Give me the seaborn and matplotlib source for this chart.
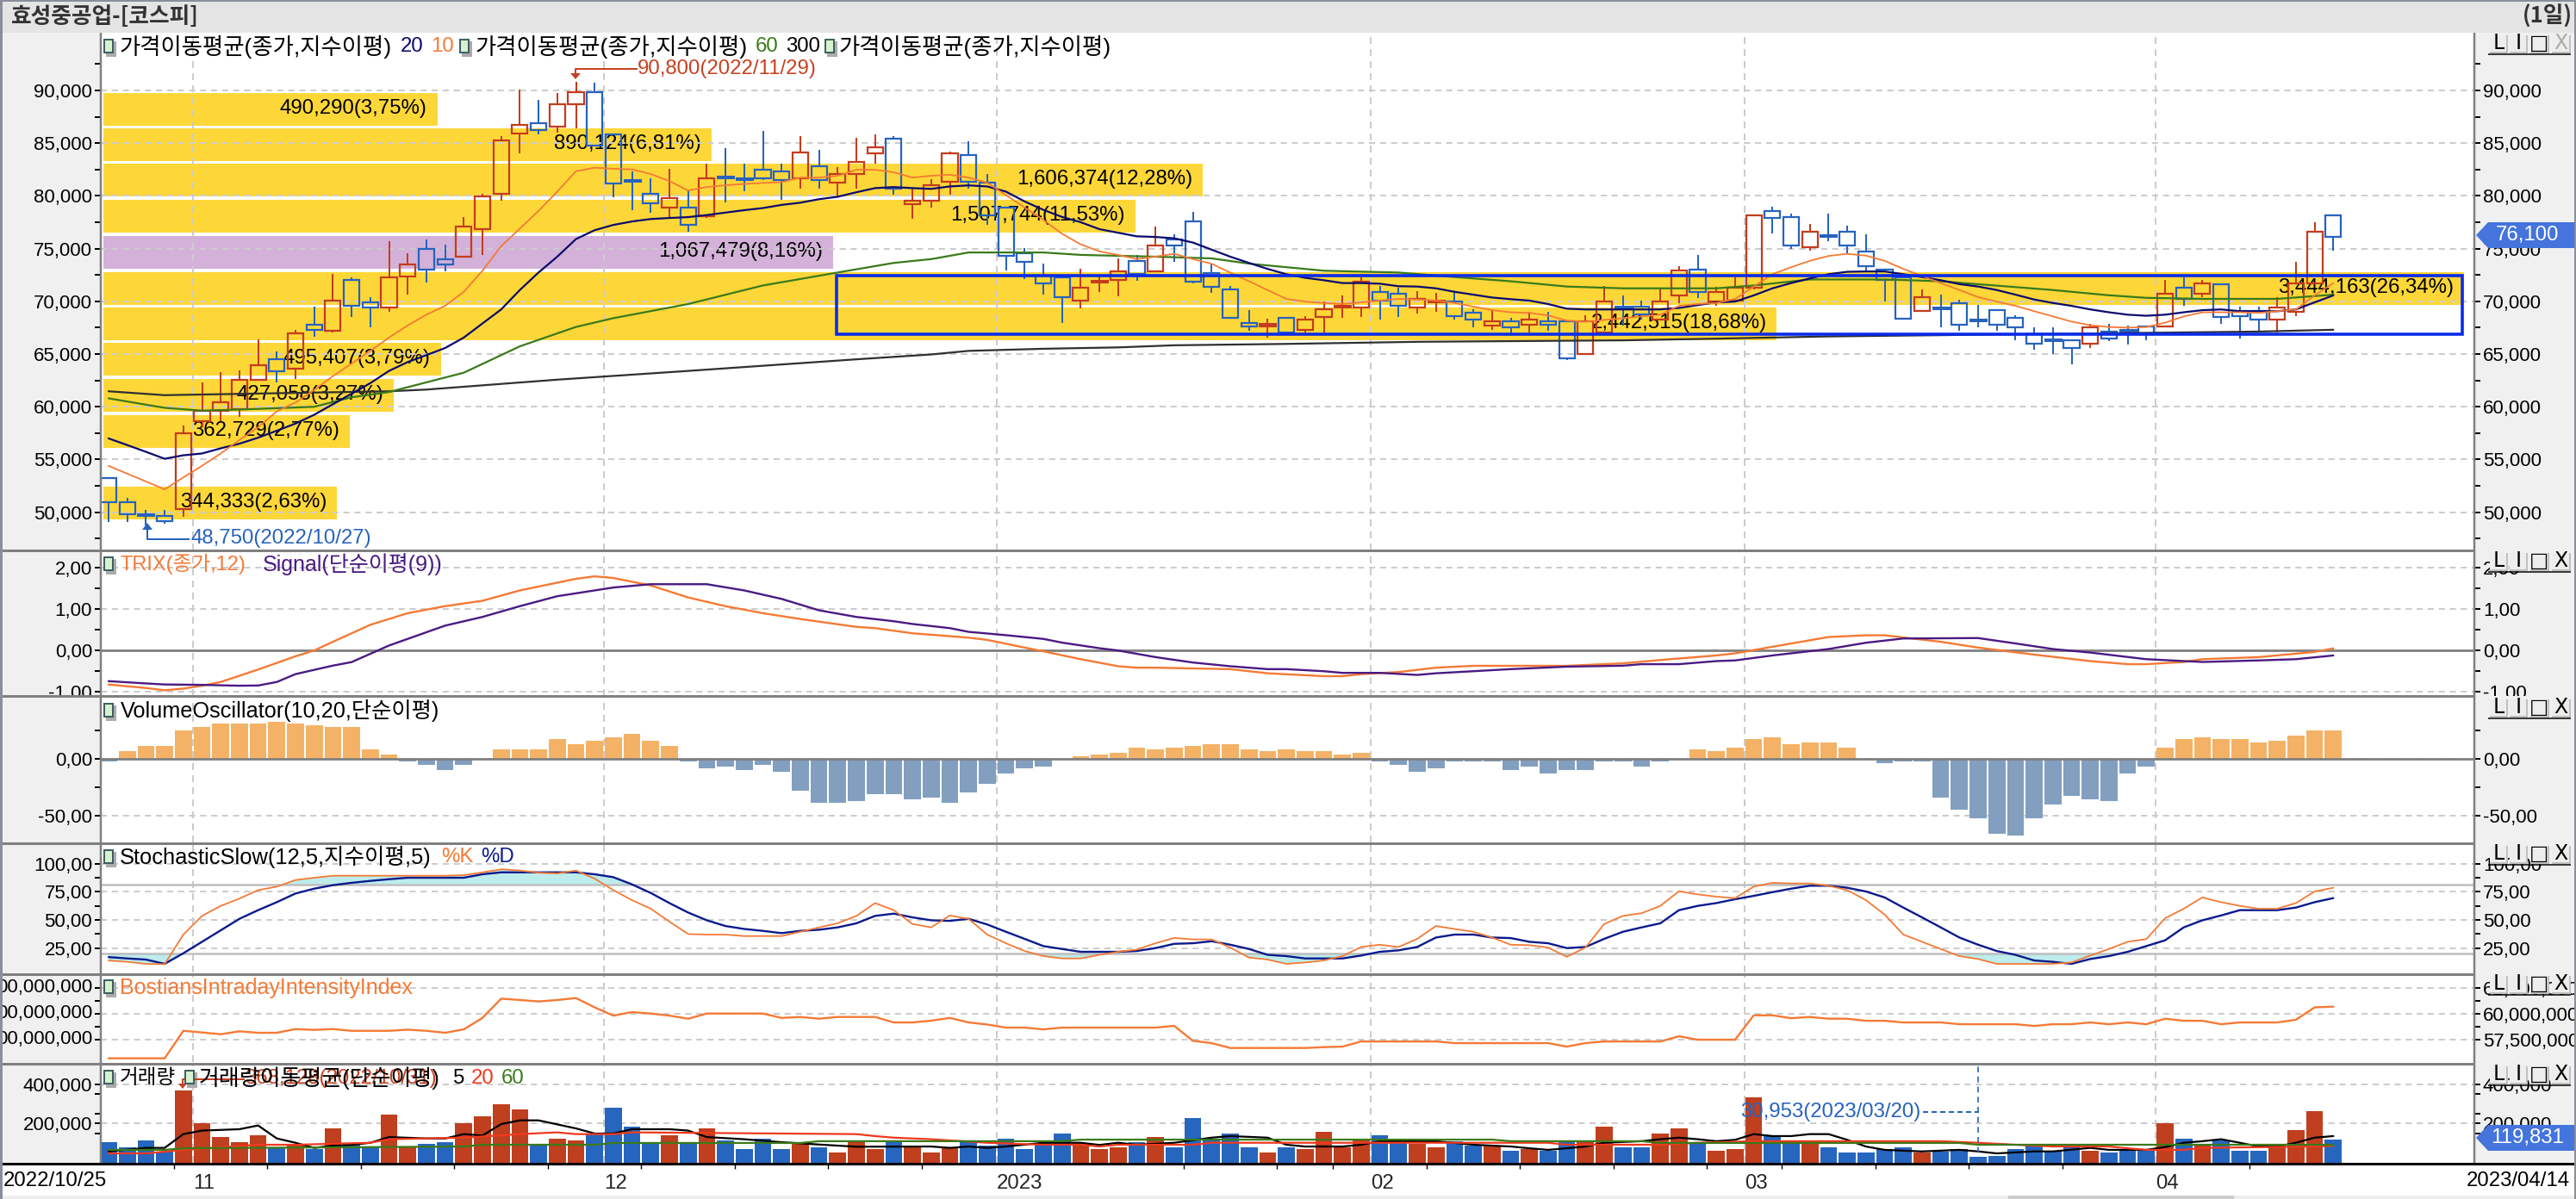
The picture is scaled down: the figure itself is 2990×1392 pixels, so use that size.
import numpy as np
import pandas as pd
import matplotlib
matplotlib.use("Agg")
import matplotlib.pyplot as plt
from matplotlib.patches import Rectangle, Polygon
from matplotlib.lines import Line2D
from matplotlib.transforms import Bbox, blended_transform_factory
import seaborn as sns

# ---------- data ----------
open_prices = [53230,50970,49800,49670,50300,58640,59640,59740,62570,64480,
63630,67770,67220,72050,69910,69400,72340,74970,74010,74270,
76840,80160,85900,86910,86560,88720,89830,85800,81500,80210,
78910,78910,78100,81850,81700,82500,82330,81660,82830,81230,
82030,83990,85450,79210,79560,81330,83840,81220,78900,74570,
72460,72250,70040,71850,72010,73820,72860,75830,77590,72710,
71100,67950,67700,68430,67270,68530,69480,69400,70900,70750,
69400,69950,69970,68960,67720,68130,67770,68130,68130,65000,
67070,69530,69480,68300,70540,73030,69970,70070,71250,78580,
77980,75130,76280,76630,74700,73040,72250,69080,69400,69800,
68280,69130,68450,66920,66400,66310,65960,67120,67280,67620,
67620,71250,70750,71580,69080,69080,68300,68980,71700,78120]
close_prices = [50970,49830,49700,49140,57500,59640,60430,62570,63900,63370,
66930,67270,70040,69590,69400,72260,73500,73010,73500,77090,
79960,85250,86760,86250,88720,89830,84800,81170,81400,79260,
79760,77250,81680,81750,81600,81660,81530,84140,81530,82030,
83180,84640,80670,79560,81030,83990,81330,78150,74320,73760,
71700,70390,71250,71950,72860,72610,75280,75280,71850,71350,
68430,67620,67820,67070,68300,69240,69600,71850,70040,69590,
70240,70080,68560,68300,68130,67570,68300,67770,64630,68130,
69970,69430,68730,69970,72910,70850,70900,71250,78150,77920,
75310,76630,76180,75310,73340,72000,68310,70410,69300,67800,
68180,67800,67570,65960,66300,65610,67520,66460,67180,66920,
70750,70240,71700,68480,68580,68300,69410,71700,76630,76100]
high_prices = [53230,51370,50230,50230,58240,62290,63250,63470,66400,65240,
67270,69500,72560,72250,70410,75680,74570,75880,75380,77960,
80210,85650,90080,89070,89720,90800,90700,85800,82320,81630,
82530,80490,83080,84540,83080,86140,83080,85650,84370,82730,
85490,85850,85650,80650,81570,84190,85140,82080,78900,75030,
73560,72250,73060,72460,74070,74370,77090,76380,78450,73510,
71480,69160,68330,68430,68630,69990,70590,72230,71450,71250,
71000,70790,70970,69230,69230,68400,68980,68980,68130,68680,
71450,70590,70090,71300,73310,74400,71400,72250,78150,78970,
78300,77340,78300,77170,76380,73040,72250,71120,70650,70140,
69660,69130,68660,67570,67570,66310,67900,67900,67720,67620,
72050,72300,72050,71580,69490,69490,70410,73730,77490,78120]
low_prices = [49060,49060,48750,48900,49570,58050,58640,59060,62570,62340,
62640,66620,67020,68480,67570,69000,70650,71800,72810,74170,
74420,79510,84040,85850,85950,86360,84800,79870,78660,78360,
78000,76600,77900,79370,80470,81530,79620,80650,80650,79870,
80720,83080,80140,77860,78860,80140,80650,77240,72960,72100,
70650,67920,69330,70850,70440,71950,72860,73730,71700,70790,
68430,67220,66560,67070,67070,67070,68430,68480,68230,68480,
68830,69000,68230,67570,67320,66970,67020,67220,64430,65000,
67070,67720,68230,68180,69840,70310,69570,69970,71150,76410,
74970,74770,75710,74570,72740,70010,68310,69080,67570,67220,
67570,67220,66310,65410,65000,64000,65610,66210,65940,66310,
67570,69570,70410,67900,66460,67070,67070,68580,71630,74770]

ma10 = [54400,53660,52920,52170,53300,54400,55570,56850,58060,59570,
60400,61600,62900,64100,65300,66560,67720,68730,69570,70900,
72900,75230,76890,78570,80400,82330,82670,82570,82500,82070,
81400,80500,80830,81000,81130,81220,81300,81730,81730,81900,
82470,82470,82230,81730,81900,82000,81730,81240,80070,78900,
77730,76400,75400,74730,74400,74000,74240,74500,74000,73560,
72720,71900,71060,70230,69970,69840,69740,69900,70070,70230,
70170,70070,69840,69500,69160,68960,68900,68660,68170,68070,
68230,68400,68570,68730,69570,69740,69840,70230,71400,72570,
73230,73840,74300,74500,74330,73840,73070,72400,71730,71070,
70400,69970,69570,69060,68570,68070,67740,67560,67500,67560,
67970,68570,68960,68960,68960,68900,69060,69230,70560,71730]
ma20 = [57000,56370,55730,55070,55400,55570,56060,56500,57070,57730,
58410,59240,60240,61240,62240,63400,64240,64900,65570,66560,
67900,69230,71070,72730,74230,75900,76740,77240,77570,77800,
77900,77980,78180,78410,78640,78840,79140,79350,79680,79910,
80340,80730,80830,80730,80660,80890,80990,80890,80400,79470,
78670,78000,77500,76840,76500,76160,76100,75970,75570,74900,
74230,73640,73070,72570,72230,72000,71730,71730,71670,71430,
71400,71230,70900,70630,70360,70200,70070,69740,69300,69230,
69230,69230,69230,69230,69370,69640,69900,69970,70560,71230,
71730,72170,72570,72800,72830,72830,72570,72300,72000,71630,
71400,71070,70630,70170,69840,69570,69230,68960,68730,68630,
68730,68960,69160,69230,69060,69060,69060,69230,69900,70560]
ma60_idx = [0,3,5,8,11,13,15,19,22,25,27,31,35,39,42,44,46,50,52,56,59,61,65,69,72,75,78,81,86,88,91,95,98,104,107,109,112,116,119]
ma60 = [60800,59900,59630,59800,60000,60900,61400,63230,65730,67570,68400,69740,71500,72730,73640,74000,74630,74630,74400,74230,74070,73570,72900,72730,72300,71900,71400,71230,71230,71500,72070,72070,71900,71070,70570,70330,70230,70230,70630]
ma300_idx = [0,3,15,17,24,31,40,44,46,50,54,57,63,70,81,86,92,115,119]
ma300 = [61470,61100,61470,61630,62570,63400,64500,64960,65300,65500,65630,65830,65960,66160,66300,66460,66670,67130,67300]

profile_prices = [50870,57650,61080,64520,67870,71220,74650,78080,81520,84850,88180]
profile_volumes = [344333,362729,427058,495407,2442515,3444163,1067479,1507744,1606374,890124,490290]
profile_labels = ["344,333(2,63%)","362,729(2,77%)","427,058(3,27%)","495,407(3,79%)","2,442,515(18,68%)",
                  "3,444,163(26,34%)","1,067,479(8,16%)","1,507,744(11,53%)","1,606,374(12,28%)","890,124(6,81%)","490,290(3,75%)"]
box_price_low, box_price_high = 66897, 72466

trix_idx = [0,1,2,3,4,5,6,8,10,11,12,14,16,18,20,22,25,26,27,29,31,33,35,37,40,41,43,46,47,49,50,52,54,55,56,60,62,65,66,67,69,71,73,78,80,81,83,86,87,89,92,94,95,98,100,103,106,108,109,111,112,115,118,119]
trix = [-0.82,-0.865,-0.905,-0.96,-0.92,-0.85,-0.76,-0.46,-0.14,0,0.21,0.62,0.90,1.07,1.20,1.45,1.73,1.79,1.75,1.57,1.28,1.07,0.90,0.76,0.57,0.54,0.415,0.31,0.256,0.07,-0.02,-0.21,-0.38,-0.415,-0.415,-0.45,-0.55,-0.62,-0.62,-0.57,-0.52,-0.415,-0.37,-0.37,-0.33,-0.31,-0.23,-0.12,-0.07,0.09,0.325,0.367,0.367,0.21,0.07,-0.10,-0.256,-0.33,-0.33,-0.277,-0.21,-0.16,-0.035,0.05]
signal_idx = [0,2,3,5,7,8,9,10,12,13,15,16,18,20,22,24,27,29,32,34,36,38,40,42,43,45,46,48,50,51,53,54,56,58,60,62,63,65,66,68,70,71,75,78,81,82,84,86,87,89,92,94,96,100,102,104,106,109,112,115,117,119]
signal = [-0.74,-0.795,-0.82,-0.83,-0.85,-0.845,-0.76,-0.57,-0.365,-0.28,0.12,0.28,0.60,0.81,1.07,1.31,1.52,1.60,1.60,1.45,1.245,0.97,0.81,0.706,0.64,0.54,0.45,0.37,0.28,0.19,0.055,0,-0.16,-0.29,-0.38,-0.45,-0.45,-0.50,-0.54,-0.54,-0.59,-0.55,-0.45,-0.39,-0.367,-0.33,-0.33,-0.256,-0.24,-0.12,0.035,0.187,0.29,0.30,0.17,0.035,-0.05,-0.21,-0.277,-0.24,-0.21,-0.12]

volume_osc = [-2.3,6.5,11,11,24.6,27.6,30.6,30.6,30.6,32,
30.6,29,27.6,27.6,8,3.5,-2.3,-5.5,-10,-5.5,
0,8,8,8,17,12.6,15.6,18.6,21.6,15.6,
11,-2.3,-8.5,-7,-10,-5.5,-11.5,-28,-38.7,-38.7,
-37,-31,-31,-35.7,-34,-38.7,-29.6,-22,-13,-8.5,
-7,0,2,3.5,5,9.5,8,9.5,11,12.5,
12.5,8,6.5,8,6.5,6.5,3.5,5,-2.5,-5.5,
-11.5,-8.5,-2.5,-2.5,-2.5,-10,-7,-13,-10,-10,
-2.5,-2.5,-7,-2.5,0,8,6.5,9.5,17,18.6,
12.6,14,14,9.5,0,-4,-2.5,-2.5,-34,-44.7,
-52,-65.8,-67.3,-52,-40,-32.7,-35.7,-37,-13,-7,
9.5,17,18.6,17,17,14,15.6,20,24.6,24.6]

stoch_k = [14,12.8,11,10.7,37,53.6,62.5,69,76.5,79.6,
85.5,87.5,89.3,89.3,89.3,89.3,89.3,89.3,89.3,89.8,
92.3,95,93.9,92,91.3,93.9,86.7,76.5,67.6,60,
48.5,37.5,37,37,35.7,35.7,35.7,39.5,43.4,47,
53.6,65,58.7,46.4,43.4,54,51,37,29.3,22.4,
17.9,15.8,15.8,19,21.7,23.7,29.3,34,32.7,32.7,
25.5,16.6,14.8,11,12.2,14,17.9,26,28,26,
33.2,44.6,42,39.5,34.4,28,27.6,25.5,17.3,25.5,
46.4,53.6,56,62.5,75.5,72.7,70.7,69.4,79.6,83,
82.4,82.4,80.4,76.5,67.6,54.8,37,30.6,24.2,17.9,
15.3,11,11,11,11,12.2,18.4,24.2,30.6,33,
51.5,60,70,65.8,62.5,60,60,65,75.3,78.6]
stoch_d = [17,15.8,14.8,11,20.4,30.6,40.8,51,58.7,65.8,
73.5,77.8,80.9,83,84.7,86.2,87.5,87.5,87.5,87.5,
90.6,92.3,92.3,92.3,92.3,92.3,90.6,88,81.6,74,
65,56.6,49.7,44.6,42,40.3,38.3,40.3,41.3,43.4,
47,53.6,55.6,52.3,49.7,49.2,51,46,39.5,33.2,
26.8,24.2,21.7,21.7,21.7,22.4,25,28.8,29.3,31.1,
28,24.2,19,17.9,15.8,15.8,15.8,18.4,21.7,23,
26,34.4,37,37,34.4,33.9,30.6,29.3,25,26,
33.2,39.5,43.4,47,58.7,62.5,65,68.4,71.4,74.7,
77.8,80.4,80.4,78.6,75.3,70,61,52.3,43.4,34.4,
28,22.4,19,14,12.8,11,15.3,17.9,21.7,26.8,
31.9,43.4,49.7,54,58.7,58.7,58.7,61,65.8,69.4]
stoch_levels = [81.5, 20.5]

bii_millions = [55.67,55.67,55.67,55.67,58.33,58.17,58.0,58.28,58.14,58.14,
58.5,58.42,58.5,58.33,58.33,58.33,58.44,58.33,58.14,58.47,
59.58,61.44,61.31,61.17,61.31,61.5,60.6,59.8,60.14,60.0,
59.8,59.5,60,60,60,60,59.58,59.67,59.5,59.67,
59.67,59.67,59.14,59.14,59.31,59.58,59.14,58.94,58.64,58.64,
58.47,58.64,58.64,58.64,58.64,58.64,58.64,58.81,57.36,57.14,
56.67,56.67,56.67,56.67,56.67,56.75,56.8,57.3,57.3,57.3,
57.3,57.3,57.14,57.14,57.14,57.14,57.14,57.14,56.8,57.14,
57.3,57.3,57.3,57.3,57.8,57.47,57.47,57.47,59.83,59.83,
59.55,59.67,59.5,59.5,59.3,59.3,59.14,59.14,59.14,58.97,
58.97,58.97,58.97,58.8,58.97,58.97,59.14,58.97,59.14,58.97,
59.5,59.3,59.3,58.97,59.14,59.14,59.14,59.4,60.6,60.67]

volumes = [105000,79000,114000,58000,368000,201000,131000,105000,140000,76000,
95000,70000,175000,95000,82000,245000,82000,96000,105000,201000,
236000,298000,272000,88000,123000,114000,149000,280000,184000,96000,
140000,96000,175000,114000,70000,123000,70000,105000,79000,53000,
105000,70000,105000,79000,53000,73000,105000,88000,123000,70000,
102000,149000,102000,70000,79000,105000,131000,79000,228000,117000,
149000,79000,53000,79000,70000,158000,79000,114000,140000,111000,
96000,79000,111000,88000,88000,61000,70000,61000,105000,105000,
184000,79000,79000,149000,175000,102000,61000,70000,330953,134000,
110000,102000,79000,53000,53000,70000,79000,53000,55000,70000,
30953,35000,70000,88000,58000,80000,61000,53000,61000,61000,
201000,123000,88000,114000,61000,61000,88000,166000,263000,119831]

vol5_idx = [0,2,3,4,5,7,8,9,10,11,12,13,14,15,17,18,19,20,21,22,23,25,26,27,28,30,31,32,34,36,38,40,
            44,45,46,47,48,50,52,53,54,55,57,59,60,62,63,64,66,67,68,71,73,75,76,77,78,79,80,82,83,84,85,86,
            87,88,89,90,91,92,93,94,95,97,99,100,101,103,104,106,107,109,110,111,112,113,114,115,116,117,118,119]
vol5 = [58000,76000,76000,146000,164000,171000,190000,124000,102000,76000,88000,91000,102000,131000,124000,124000,146000,139000,197000,216000,216000,175000,149000,149000,171000,171000,164000,131000,120000,105000,93000,82000,
        83000,76000,83000,76000,83000,102000,102000,91000,102000,92000,102000,128000,136000,128000,92000,83000,83000,92000,110000,110000,92000,83000,74000,66000,74000,83000,102000,110000,120000,128000,120000,110000,
        117000,146000,136000,136000,146000,146000,117000,83000,66000,58000,66000,58000,48000,58000,58000,76000,66000,66000,80000,102000,110000,120000,102000,83000,83000,102000,128000,136000]
vol20_idx = [0,2,4,8,10,14,15,19,22,24,25,27,28,40,41,42,44,47,50,52,53,54,58,59,77,78,83,85,88,98,100,102,104,107,108,109,111,112,118,119]
vol20 = [48000,48000,66000,92000,92000,102000,120000,128000,146000,155000,146000,146000,155000,146000,136000,128000,120000,102000,92000,92000,83000,92000,92000,102000,102000,92000,92000,102000,110000,110000,102000,92000,83000,83000,74000,66000,66000,76000,83000,87000]
vol60_idx = [0,3,4,19,20,26,27,37,38,51,52,74,75,82,83,99,100,119]
vol60 = [66000,66000,74000,83000,92000,92000,101000,101000,110000,110000,118000,118000,110000,110000,101000,101000,92000,92000]

n_candles = 120
month_pos = [4.5, 26.5, 47.5, 67.5, 87.5, 109.5]
month_labels = ["11", "12", "2023", "02", "03", "04"]
week_pos = [3.5, 8.5, 13.5, 18.5, 23.5, 28.5, 33.5, 38.5, 43.5, 57.5, 62.5, 65.5, 70.5, 75.5, 80.5, 85.5, 89.5, 94.5, 99.5, 104.5, 114.5]

# ---------- theme ----------
W, H = 2990, 1392
sns.set_theme(style="white")
plt.rcParams["font.family"] = ["Liberation Sans", "Noto Sans CJK KR", "DejaVu Sans"]
plt.rcParams["axes.unicode_minus"] = False
FS = 16
FS_NOTE = 17.3

RED, BLUE = "#C43C1C", "#2763BD"
VRED, VBLUE = "#BF3F1E", "#2766BE"
ORANGE, NAVY, GREEN, DARK = "#F47A35", "#0A0A6E", "#3A7A1A", "#303030"
PURPLE, DNAVY = "#4A1A82", "#0A1A8C"
YELLOW, LILAC = "#FDD738", "#D3B1D8"
GRID = "#CCCCCC"
PANEL = "#F0F0F0"
TAG = "#4474DC"

fig = plt.figure(figsize=(W / 100, H / 100), dpi=100, facecolor="white")
idx = np.arange(n_candles)
X0, X1 = 117, 2872
XLIM = ((117 - 126) / 21.7, (2872 - 126) / 21.7)


def rect(x0, y0, x1, y1, color, z=-1):
    fig.add_artist(Rectangle((x0 / W, 1 - y1 / H), (x1 - x0) / W, (y1 - y0) / H,
                             transform=fig.transFigure, fc=color, ec="none", zorder=z))


def pline(xs, ys, color, px=2, z=6, **kw):
    fig.add_artist(Line2D([x / W for x in xs], [1 - y / H for y in ys], transform=fig.transFigure,
                          color=color, lw=px * 0.72, zorder=z, solid_capstyle="butt", **kw))


def ptext(x, y, s, color="black", size=17, ha="left", va="center", z=8, **kw):
    fig.text(x / W, 1 - y / H, s, color=color, fontsize=size, ha=ha, va=va, zorder=z, **kw)


def tri(points, color, z=7):
    fig.add_artist(Polygon([(x / W, 1 - y / H) for x, y in points], closed=True,
                           transform=fig.transFigure, fc=color, ec="none", zorder=z))


def new_ax(y0, y1, z=2):
    return fig.add_axes([X0 / W, 1 - y1 / H, (X1 - X0) / W, (y1 - y0) / H], zorder=z)


def style(ax, y0, y1, ylim, major, labels, minor):
    ax.set_xlim(*XLIM)
    ax.set_ylim(*ylim)
    ax.set(xlabel="", ylabel="")
    ax.set_xticks(month_pos)
    ax.set_yticks(major, labels)
    ax.set_yticks(minor, minor=True)
    ax.tick_params(axis="y", which="both", left=True, right=True, direction="out", length=5, width=1.44,
                   color="black", labelsize=FS, labelleft=True, labelright=True, pad=2.2)
    ax.tick_params(axis="x", which="both", length=0, labelbottom=False)
    ax.set_axisbelow(True)
    ax.grid(False)
    ax.grid(axis="x", which="major", color=GRID, lw=1.44, ls=(0, (4, 3)))
    ax.grid(axis="y", which="major", color=GRID, lw=1.44, ls=(0, (3.6, 2.8)))
    for s in ax.spines.values():
        s.set_visible(False)
    box = Bbox([[0, H - y1], [W, H - y0]])
    for t in ax.yaxis.get_major_ticks():
        for lab in (t.label1, t.label2):
            lab.set_clip_box(box)
            lab.set_clip_on(True)
            lab.set_color("black")


def line(ax, x, y, color, lw=1.44, z=4):
    sns.lineplot(x=np.asarray(x, float), y=np.asarray(y, float), ax=ax, color=color, linewidth=lw,
                 estimator=None, sort=False, legend=False, zorder=z)


def icon(x, cy):
    rect(x + 3, cy - 6, x + 15, cy + 12, "#ABABAB", 7)
    rect(x, cy - 9, x + 12, cy + 8, "#3F5F63", 7.1)
    rect(x + 2, cy - 7, x + 10, cy + 6, "#D6F3CE", 7.2)


# ---------- background bands ----------
rect(0, 0, W, 38, "#E4E4E4")
rect(0, 38, X0, 1350, PANEL)
rect(X1, 38, W, 1350, PANEL)
rect(0, 1388, W, 1392, "#EEEEEE", 0.5)
rect(2331, 1388, 2593, 1392, "#CCCCCC", 0.6)

# ---------- price panel: volume profile underneath ----------
P_Y0, P_Y1 = 38, 639
P_LIM = (50000 - (P_Y1 - 594.7) / 0.012245, 50000 + (594.7 - P_Y0) / 0.012245)
VP = 0.7965 / 1000
ax_prof = new_ax(P_Y0, P_Y1, z=1)
inset = 3 / VP
prof_colors = [LILAC if v == 1067479 else YELLOW for v in profile_volumes]
ax_prof.barh(profile_prices, np.array(profile_volumes) - inset, left=inset, height=3080, color=prof_colors, linewidth=0)
for p, v, lab in zip(profile_prices, profile_volumes, profile_labels):
    ax_prof.annotate(lab, (v, p), xytext=(-12, 1), textcoords="offset pixels", ha="right", va="center",
                     fontsize=FS_NOTE, color="black", annotation_clip=False)
ax_prof.set_xlim(0, (X1 - X0) / VP)
ax_prof.set_ylim(*P_LIM)
ax_prof.axis("off")

ax = new_ax(P_Y0, P_Y1, z=2)
ax.patch.set_alpha(0)
o, c, hi, lo = map(np.array, (open_prices, close_prices, high_prices, low_prices))
up = c > o
top, bot = np.maximum(o, c), np.minimum(o, c)
thick = (top - bot) <= 130
for mask, col in ((up, RED), (~up, BLUE)):
    ax.vlines(idx[mask], top[mask], hi[mask], colors=col, linewidth=1.44, zorder=2)
    ax.vlines(idx[mask], lo[mask], bot[mask], colors=col, linewidth=1.44, zorder=2)
    ax.bar(idx[mask & ~thick], (top - bot)[mask & ~thick], bottom=bot[mask & ~thick], width=0.83,
           facecolor="none", edgecolor=col, linewidth=1.6, zorder=2.5)
    ax.bar(idx[mask & thick], (top - bot)[mask & thick], bottom=bot[mask & thick], width=0.83,
           facecolor=col, edgecolor=col, linewidth=2.2, zorder=2.5)
line(ax, ma300_idx, ma300, DARK, 1.6)
line(ax, ma60_idx, ma60, GREEN, 1.6)
line(ax, idx, ma20, NAVY, 1.6)
line(ax, idx, ma10, ORANGE, 1.3)
ax.add_patch(Rectangle((38.94, box_price_low), 125.9 - 38.94, box_price_high - box_price_low, fc="none",
                       ec="#0A2BEB", lw=2.6, zorder=5))
style(ax, P_Y0, P_Y1, P_LIM, list(range(50000, 90001, 5000)), [f"{v:,}" for v in range(50000, 90001, 5000)],
      list(range(47500, 92501, 5000)))

# ---------- TRIX ----------
T_Y0, T_Y1 = 640, 807.5
ax_t = new_ax(T_Y0, T_Y1)
line(ax_t, trix_idx, trix, ORANGE, 1.7)
line(ax_t, signal_idx, signal, PURPLE, 1.7)
ax_t.axhline(0, color="#808080", lw=2.0, zorder=3)
style(ax_t, T_Y0, T_Y1, (-(T_Y1 - 755.2) / 48.1, (755.2 - T_Y0) / 48.1), [-1, 0, 1, 2],
      ["-1,00", "0,00", "1,00", "2,00"], [-0.5, 0.5, 1.5])

# ---------- Volume oscillator ----------
V_Y0, V_Y1 = 809, 977.5
ax_v = new_ax(V_Y0, V_Y1)
vo_df = pd.DataFrame({"i": idx, "v": volume_osc, "s": ["p" if v >= 0 else "n" for v in volume_osc]})
sns.barplot(data=vo_df, x="i", y="v", hue="s", palette={"p": "#F4B266", "n": "#829FC0"}, native_scale=True,
            dodge=False, width=0.91, saturation=1, legend=False, errorbar=None, ax=ax_v, linewidth=0)
ax_v.axhline(0, color="#808080", lw=2.0, zorder=3)
style(ax_v, V_Y0, V_Y1, (-(V_Y1 - 880.7) / 1.326, (880.7 - V_Y0) / 1.326), [-50, 0],
      ["-50,00", "0,00"], [-25, 25])

# ---------- Stochastic ----------
S_Y0, S_Y1 = 979.5, 1129
ax_s = new_ax(S_Y0, S_Y1)
k, d = np.array(stoch_k), np.array(stoch_d)
upper, lower = np.maximum(k, d), np.minimum(k, d)
ax_s.fill_between(idx, stoch_levels[0], upper, where=upper > stoch_levels[0], interpolate=True, color="#BDECEC", lw=0, zorder=1)
ax_s.fill_between(idx, stoch_levels[1], lower, where=lower < stoch_levels[1], interpolate=True, color="#BDECEC", lw=0, zorder=1)
for lv in stoch_levels:
    ax_s.axhline(lv, color="#BEBEBE", lw=1.8, zorder=2)
line(ax_s, idx, stoch_d, DNAVY, 1.7)
line(ax_s, idx, stoch_k, ORANGE, 1.3)
style(ax_s, S_Y0, S_Y1, (25 - (S_Y1 - 1100.7) / 1.307, 100 + (1002.7 - S_Y0) / 1.307), [25, 50, 75, 100],
      ["25,00", "50,00", "75,00", "100,00"], [37.5, 62.5, 87.5])

# ---------- BII ----------
B_Y0, B_Y1 = 1131.5, 1233
ax_b = new_ax(B_Y0, B_Y1)
line(ax_b, idx, bii_millions, ORANGE, 1.7)
style(ax_b, B_Y0, B_Y1, (60 - (B_Y1 - 1176.7) / 12, 60 + (1176.7 - B_Y0) / 12), [57.5, 60, 62.5],
      ["57,500,000", "60,000,000", "62,500,000"], [58.75, 61.25])
ax_b.tick_params(axis="y", labelleft=False)
left_tr = blended_transform_factory(ax_b.transAxes, ax_b.transData)
for val in [57.5, 60, 62.5]:
    ax_b.annotate("00,000,000", (0, val), xycoords=left_tr, xytext=(-10, 0), textcoords="offset pixels",
                  ha="right", va="center", fontsize=FS, color="black", annotation_clip=False)

# ---------- Volume ----------
O_Y0, O_Y1 = 1236, 1350
ax_o = new_ax(O_Y0, O_Y1)
vol_df = pd.DataFrame({"i": idx, "v": volumes, "s": ["u" if u else "d" for u in up]})
sns.barplot(data=vol_df, x="i", y="v", hue="s", palette={"u": VRED, "d": VBLUE}, native_scale=True,
            dodge=False, width=0.91, saturation=1, legend=False, errorbar=None, ax=ax_o, linewidth=0)
line(ax_o, vol5_idx, vol5, "black", 1.6)
line(ax_o, vol20_idx, vol20, "#F0391F", 1.6)
line(ax_o, vol60_idx, vol60, GREEN, 1.6)
ax_o.axvline(100, color=BLUE, lw=1.2, ls=(0, (4, 3)), zorder=4)
style(ax_o, O_Y0, O_Y1, (0, (O_Y1 - O_Y0) / 45.65 * 200000), [200000, 400000], ["200,000", "400,000"],
      [150000, 250000, 350000])
ax_o.set_xticks(month_pos, month_labels, ha="left")
ax_o.set_xticks(week_pos, minor=True)
ax_o.tick_params(axis="x", which="major", length=7.2, width=1, color="black", labelbottom=True, labelsize=FS_NOTE, pad=2)
ax_o.tick_params(axis="x", which="minor", length=5, width=1, color="black", bottom=True)

# ---------- frames ----------
for y in (639.5, 808, 978.5, 1130.5, 1234.5):
    pline([0, X1], [y, y], "#808080", 3, z=5)
pline([0, W], [1350.5, 1350.5], "black", 3, z=5)
pline([X0, X0], [38, 1350], "#808080", 2.5, z=5)
pline([X1, X1], [38, 1350], "#808080", 2.5, z=5)

# ---------- tags ----------
for cy, h, s in ((273, 15, "76,100"), (1321, 15, "119,831")):
    tri([(2874, cy), (2888, cy - h), (2988, cy - h), (2988, cy + h), (2888, cy + h)], TAG, 9)
    ptext(2934, cy, s, "white", FS_NOTE, ha="center", z=9.5)

# ---------- buttons ----------
for by, xcol in ((41, "#ABABAB"), (642, "black"), (812, "black"), (982, "black"), (1133, "black"), (1238, "black")):
    for (bx0, bx1), g in zip(((2890, 2910), (2913, 2933), (2937, 2958), (2962, 2983)), "LI□X"):
        rect(bx0, by, bx1 + 1, by + 21, "#C0C0C0", 9)
        rect(bx0, by, bx1 - 1, by + 19, "#EDEDED", 9.1)
        ptext((bx0 + bx1) / 2, by + 9, g, xcol if g == "X" else "black", 17, ha="center", z=9.2,
              family="DejaVu Sans")
    pline([2888, 2984], [by + 22, by + 22], "black", 1.5, z=9.2)

# ---------- legends ----------
LEG = 19
icon(120, 54)
ptext(139, 54, "가격이동평균(종가,지수이평)", "black", LEG)
ptext(465, 54, "20", NAVY, FS_NOTE)
ptext(500, 54, "10", ORANGE, FS_NOTE)
icon(533, 54)
ptext(552, 54, "가격이동평균(종가,지수이평)", "black", LEG)
ptext(877, 54, "60", GREEN, FS_NOTE)
ptext(912, 54, "300", "black", FS_NOTE)
icon(957, 54)
ptext(974, 54, "가격이동평균(종가,지수이평)", "black", LEG)

icon(120, 655)
ptext(140, 655, "TRIX(종가,12)", ORANGE, 17)
ptext(305, 655, "Signal(단순이평(9))", PURPLE, 18)
icon(120, 825)
ptext(140, 825, "VolumeOscillator(10,20,단순이평)", "black", 18.2)
icon(120, 995)
ptext(139, 995, "StochasticSlow(12,5,지수이평,5)", "black", 18.4)
ptext(512, 995, "%K", ORANGE, FS_NOTE)
ptext(558, 995, "%D", DNAVY, FS_NOTE)
icon(120, 1146)
ptext(139, 1147, "BostiansIntradayIntensityIndex", ORANGE, 18)
icon(120, 1251)
ptext(139, 1252, "거래량", "black", 17)
ptext(284, 1252, "368,128(2022/10/31)", "#C84020", FS_NOTE, z=7.5)
icon(214, 1251)
ptext(231, 1252, "거래량이동평균(단순이평)", "black", 18.7)
ptext(526, 1252, "5", "black", FS_NOTE)
ptext(547, 1252, "20", "#F0391F", FS_NOTE)
ptext(582, 1252, "60", GREEN, FS_NOTE)

# ---------- annotations ----------
pline([668, 668, 740], [90, 80, 80], "#C84020", 2)
tri([(662, 85), (674, 85), (668, 92)], "#C84020")
ptext(740, 80, "90,800(2022/11/29)", "#C84020", FS_NOTE)
pline([171, 171, 220], [610, 626, 626], BLUE, 2)
tri([(165, 615), (177, 615), (171, 607)], BLUE)
ptext(222, 625, "48,750(2022/10/27)", BLUE, FS_NOTE)
pline([212, 212, 284], [1258, 1252.7, 1252.7], "#C84020", 2, z=7)
tri([(207, 1258), (217, 1258), (212, 1264)], "#C84020")
ptext(2020, 1291, "30,953(2023/03/20)", BLUE, FS_NOTE)
pline([2232, 2297], [1291, 1291], BLUE, 2, ls=(0, (3, 2)))

# ---------- title and date ends ----------
ptext(13, 19, "효성중공업-[코스피]", "#333333", 18.5, weight="bold", family=["Noto Sans CJK KR"])
ptext(2986, 19, "(1일)", "#333333", 18.5, ha="right", weight="bold", family=["Noto Sans CJK KR"])
ptext(4, 1371, "2022/10/25", "black", 17.3)
ptext(2983, 1371, "2023/04/14", "black", 17.3, ha="right")

# ---------- outer border ----------
rect(0, 0, W, 2, "#8A8F99", 10)
rect(0, 0, 2.5, 1392, "#8A8F99", 10)
rect(W - 2.5, 0, W, 1392, "#8A8F99", 10)

fig.savefig("out.png", dpi=100, facecolor="white")
